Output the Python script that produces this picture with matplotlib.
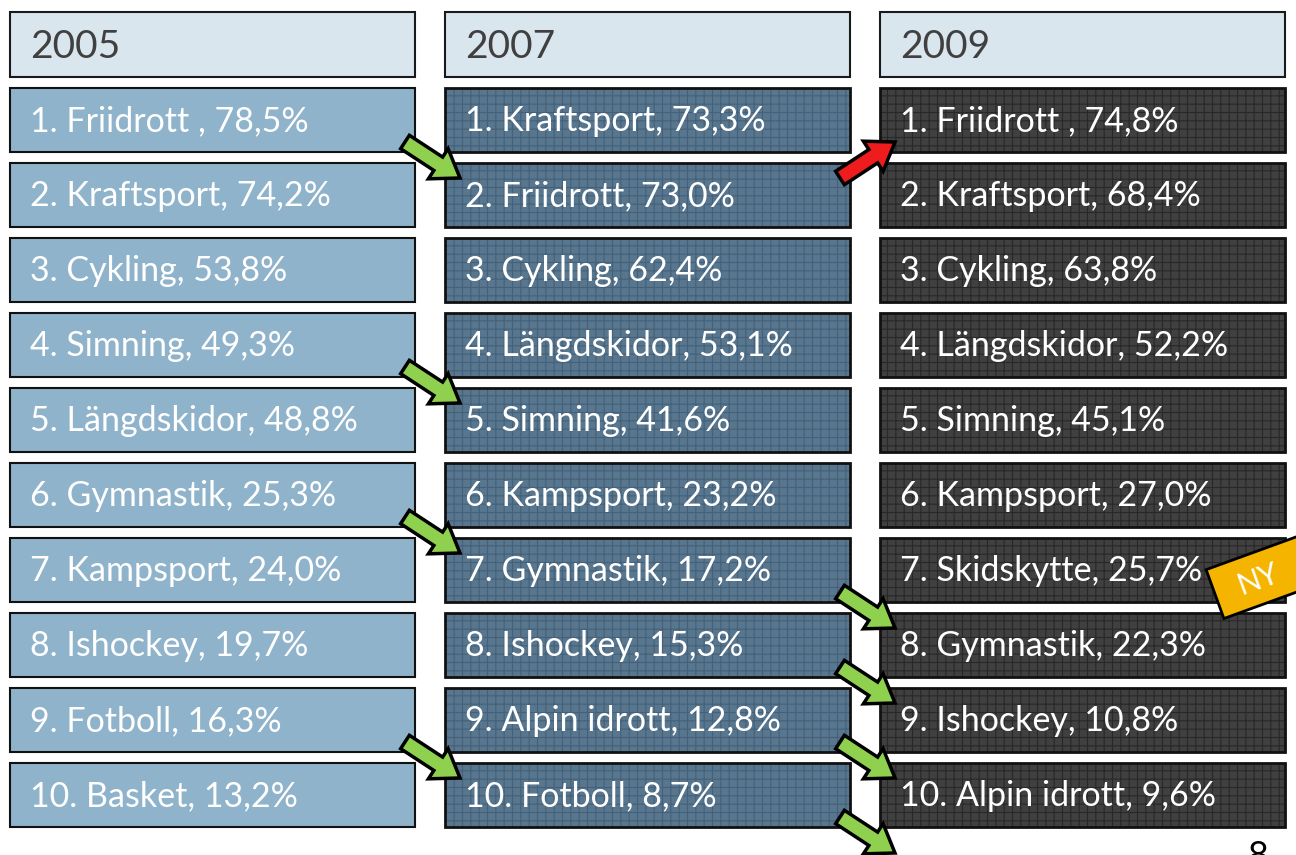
import matplotlib
matplotlib.use("Agg")

import matplotlib.pyplot as plt
from matplotlib.patches import Rectangle, FancyArrow
from matplotlib import transforms

# data for the three years (rank lists)
years = ["2005", "2007", "2009"]
sports_2005 = ["Friidrott ", "Kraftsport", "Cykling", "Simning", "Längdskidor",
               "Gymnastik", "Kampsport", "Ishockey", "Fotboll", "Basket"]
values_2005 = ["78,5%", "74,2%", "53,8%", "49,3%", "48,8%",
               "25,3%", "24,0%", "19,7%", "16,3%", "13,2%"]
sports_2007 = ["Kraftsport", "Friidrott", "Cykling", "Längdskidor", "Simning",
               "Kampsport", "Gymnastik", "Ishockey", "Alpin idrott", "Fotboll"]
values_2007 = ["73,3%", "73,0%", "62,4%", "53,1%", "41,6%",
               "23,2%", "17,2%", "15,3%", "12,8%", "8,7%"]
sports_2009 = ["Friidrott ", "Kraftsport", "Cykling", "Längdskidor", "Simning",
               "Kampsport", "Skidskytte", "Gymnastik", "Ishockey", "Alpin idrott"]
values_2009 = ["74,8%", "68,4%", "63,8%", "52,2%", "45,1%",
               "27,0%", "25,7%", "22,3%", "10,8%", "9,6%"]

# rank changes shown as arrows: (column gap, from row, to row, direction)
moves = [(0, 0, 1, "down"), (0, 3, 4, "down"), (0, 5, 6, "down"), (0, 8, 9, "down"),
         (1, 1, 0, "up"), (1, 6, 7, "down"), (1, 7, 8, "down"), (1, 8, 9, "down"),
         (1, 9, 10, "down")]

W, H = 1296, 855
fig = plt.figure(figsize=(W / 100, H / 100), dpi=100)
ax = fig.add_axes([0, 0, 1, 1])
ax.set_xlim(0, W)
ax.set_ylim(H, 0)
ax.axis("off")

plt.rcParams["hatch.linewidth"] = 0.8
FONT = ["Lato", "DejaVu Sans"]

col_x = [10, 445, 880]
col_w = 405
head_y, head_h = 12, 65
row_y0, row_pitch, row_h = 88, 75, 64

fills = ["#8fb3ca", "#58778f", "#404040"]
hatch_cols = [None, "#44607a", "#282828"]

columns = [(sports_2005, values_2005), (sports_2007, values_2007),
           (sports_2009, values_2009)]

for c, (names, vals) in enumerate(columns):
    x = col_x[c]
    ax.add_patch(Rectangle((x, head_y), col_w, head_h, facecolor="#dae6ee",
                           edgecolor="#1a1a1a", lw=1.5))
    ax.text(x + 20, head_y + head_h / 2 + 2, years[c], color="#404040",
            fontsize=28, va="center", ha="left", family=FONT)
    for i, (name, val) in enumerate(zip(names, vals)):
        y = row_y0 + i * row_pitch
        if hatch_cols[c]:
            ax.add_patch(Rectangle((x, y), col_w, row_h, facecolor=fills[c],
                                   edgecolor=hatch_cols[c], hatch="++", lw=0))
            ax.add_patch(Rectangle((x, y), col_w, row_h, facecolor="none",
                                   edgecolor="#111111", lw=2))
        else:
            ax.add_patch(Rectangle((x, y), col_w, row_h, facecolor=fills[c],
                                   edgecolor="#111111", lw=1.5))
        ax.text(x + 20, y + row_h / 2 + 1, f"{i + 1}. {name}, {val}", color="white",
                fontsize=24.5, va="center", ha="left", family=FONT)

# arrows between columns
for gap, r0, r1, kind in moves:
    x0 = col_x[gap] + col_w - 10
    x1 = col_x[gap + 1] + 15
    if kind == "down":
        y0 = row_y0 + r0 * row_pitch + row_h - 10
        y1 = row_y0 + r1 * row_pitch + 15
        color = "#8fd14f"
    else:
        y0 = row_y0 + r0 * row_pitch + 15
        y1 = row_y0 + r1 * row_pitch + row_h - 10
        color = "#ee1c1c"
    ax.add_patch(FancyArrow(x0, y0, x1 - x0, y1 - y0, width=16, head_width=36,
                            head_length=26, length_includes_head=True,
                            facecolor=color, edgecolor="black", lw=2.5, zorder=5))

# "NY" badge next to the new entry
cx, cy = 1262, 577
badge = Rectangle((cx - 50, cy - 26), 100, 52, facecolor="#f5b400",
                  edgecolor="black", lw=2, zorder=6)
badge.set_transform(transforms.Affine2D().rotate_deg_around(cx, cy, -20) + ax.transData)
ax.add_patch(badge)
ax.text(cx - 4, cy + 2, "NY", color="white", fontsize=22, rotation=20,
        ha="center", va="center", family=FONT, zorder=7)

# page number, cut off at the bottom as in the slide
ax.text(1258, 840, "8", color="black", fontsize=26, ha="center", va="top",
        family=FONT)

fig.savefig("out.png", dpi=100)
